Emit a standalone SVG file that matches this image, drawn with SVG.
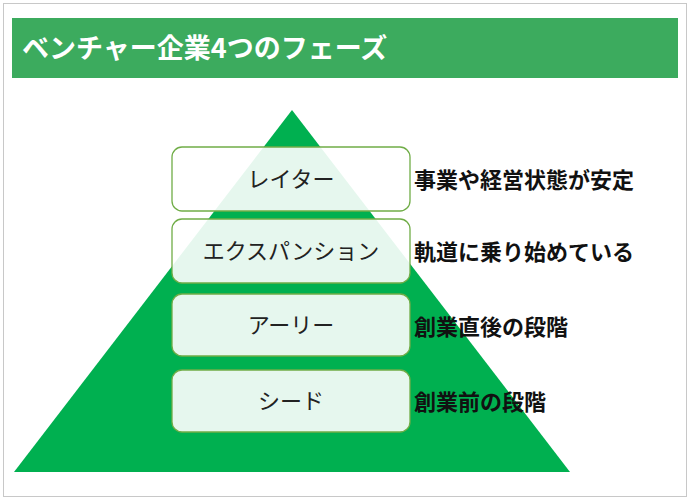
<svg xmlns="http://www.w3.org/2000/svg" width="690" height="500" viewBox="0 0 690 500">
<style>
.box{fill:#ffffff;fill-opacity:0.9;stroke:#70ad47;stroke-width:1.3}
.bt{font-family:"Noto Sans CJK JP","Noto Sans",sans-serif;font-size:22px;fill:#222;text-anchor:middle}
.lt{font-family:"Noto Sans CJK JP","Noto Sans",sans-serif;font-size:22px;font-weight:bold;fill:#111}
</style>
<rect x="0" y="0" width="690" height="500" fill="#fff"/>
<rect x="3.5" y="3.5" width="683" height="493" fill="none" stroke="#c8c8c8"/>
<g id="header">
<rect x="12" y="18" width="666" height="60" fill="#3cab5e"/>
<text x="22" y="58" font-family="Noto Sans CJK JP,sans-serif" font-size="27" font-weight="bold" fill="#fff">ベンチャー企業4つのフェーズ</text>
</g>
<g id="pyramid"><polygon points="292,110 14,472 570,472" fill="#00b050"/></g>
<g id="late"><rect class="box" x="172" y="147" width="238" height="64" rx="10"/><text class="bt" x="291" y="187">レイター</text><text class="lt" x="414" y="188">事業や経営状態が安定</text></g>
<g id="expansion"><rect class="box" x="172" y="219" width="238" height="64" rx="10"/><text class="bt" x="291" y="259">エクスパンション</text><text class="lt" x="414" y="260">軌道に乗り始めている</text></g>
<g id="early"><rect class="box" x="172" y="294" width="238" height="62" rx="10"/><text class="bt" x="291" y="333">アーリー</text><text class="lt" x="414" y="335">創業直後の段階</text></g>
<g id="seed"><rect class="box" x="172" y="370" width="238" height="62" rx="10"/><text class="bt" x="291" y="409">シード</text><text class="lt" x="414" y="410">創業前の段階</text></g>
<g id="connectors"/>
</svg>
